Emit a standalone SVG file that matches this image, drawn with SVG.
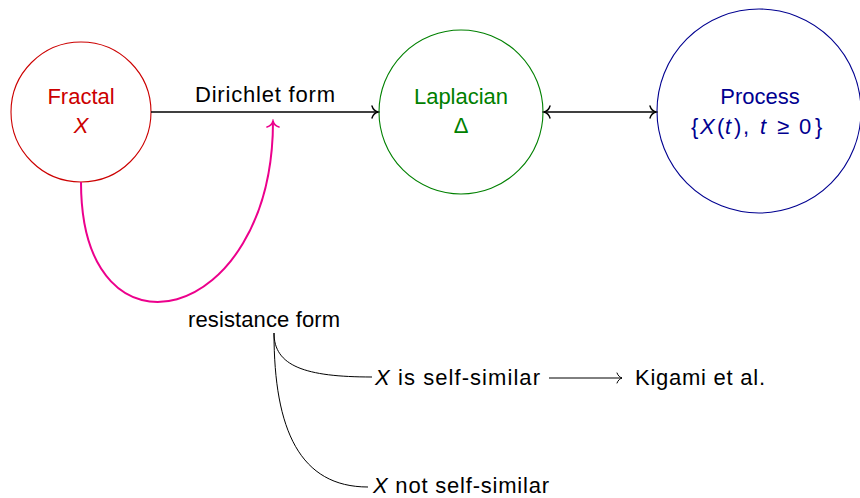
<svg xmlns="http://www.w3.org/2000/svg" width="860" height="498" viewBox="0 0 860 498">
  <style>
    text { font-family: "Liberation Sans", Arial, sans-serif; font-size: 22px; text-anchor: middle; }
    .it { font-style: italic; }
    .start { text-anchor: start; }
    .node { fill: none; stroke-width: 1.1; }
    .edge { fill: none; stroke: #000; stroke-width: 1.5; }
    .thin { fill: none; stroke: #000; stroke-width: 1; }
    .red { fill: #cc0000; }
    .green { fill: #008000; }
    .blue { fill: #000090; }
  </style>
  <defs>
    <!-- open "to"-style arrow tips -->
    <marker id="tipK" viewBox="-8 -7 10 14" markerWidth="10" markerHeight="14" refX="0" refY="0" orient="auto-start-reverse" markerUnits="userSpaceOnUse">
      <path d="M -6,-6 C -5,-2.6 -1.8,-0.5 0,0 C -1.8,0.5 -5,2.6 -6,6" fill="none" stroke="#000" stroke-width="1.4" stroke-linecap="round"/>
    </marker>
    <marker id="tipS" viewBox="-8 -7 10 14" markerWidth="10" markerHeight="14" refX="0" refY="0" orient="auto" markerUnits="userSpaceOnUse">
      <path d="M -5,-5 C -4.2,-2.2 -1.5,-0.4 0,0 C -1.5,0.4 -4.2,2.2 -5,5" fill="none" stroke="#000" stroke-width="1" stroke-linecap="round"/>
    </marker>
    <marker id="tipM" viewBox="-8 -7 10 14" markerWidth="10" markerHeight="14" refX="0" refY="0" orient="auto" markerUnits="userSpaceOnUse">
      <path d="M -6,-6 C -5,-2.6 -1.8,-0.5 0,0 C -1.8,0.5 -5,2.6 -6,6" fill="none" stroke="#ec008c" stroke-width="1.6" stroke-linecap="round"/>
    </marker>
  </defs>

  <rect width="860" height="498" fill="#fff"/>

  <g id="fractal">
    <circle class="node" cx="81" cy="112" r="70" stroke="#cc0000"/>
    <text class="red" x="81" y="104">Fractal</text>
    <text class="red it" x="81" y="133">X</text>
  </g>

  <g id="laplacian">
    <circle class="node" cx="461" cy="112" r="82" stroke="#008000"/>
    <text class="green" x="461" y="104">Laplacian</text>
    <text class="green" x="461" y="133">Δ</text>
  </g>

  <g id="process">
    <circle class="node" cx="759" cy="111" r="102" stroke="#000090"/>
    <text class="blue" x="760" y="104">Process</text>
    <!-- set-builder formula, glyphs placed one by one for math spacing -->
    <text class="blue start" y="134"><tspan x="691">{</tspan><tspan class="it" x="700">X</tspan><tspan x="717">(</tspan><tspan class="it" x="725">t</tspan><tspan x="734">)</tspan><tspan x="743">,</tspan><tspan class="it" x="760">t</tspan><tspan x="777">≥</tspan><tspan x="799">0</tspan><tspan x="815">}</tspan></text>
  </g>

  <g id="resistance">
    <text x="264" y="327" textLength="152" lengthAdjust="spacing">resistance form</text>
  </g>

  <g id="selfsimilar">
    <text class="start" x="375" y="385" textLength="165" lengthAdjust="spacing"><tspan class="it">X</tspan> is self-similar</text>
  </g>

  <g id="kigami">
    <text class="start" x="635" y="385" textLength="130" lengthAdjust="spacing">Kigami et al.</text>
  </g>

  <g id="notselfsimilar">
    <text class="start" x="373" y="493" textLength="176" lengthAdjust="spacing"><tspan class="it">X</tspan> not self-similar</text>
  </g>

  <g id="connectors">
    <line class="edge" x1="151" y1="112" x2="378" y2="112" marker-end="url(#tipK)"/>
    <text x="265" y="102" textLength="140" lengthAdjust="spacing">Dirichlet form</text>
    <line class="edge" x1="544" y1="112" x2="656" y2="112" marker-start="url(#tipK)" marker-end="url(#tipK)"/>
    <path d="M 81,182 C 81,372 273,325 273,121" fill="none" stroke="#ec008c" stroke-width="2" marker-end="url(#tipM)"/>
    <path class="thin" d="M 274,333 C 274,366 305,377 372,377"/>
    <path class="thin" d="M 274,333 C 274,430 300,487 368,487"/>
    <line class="thin" x1="549" y1="378" x2="622" y2="378" marker-end="url(#tipS)"/>
  </g>
</svg>
